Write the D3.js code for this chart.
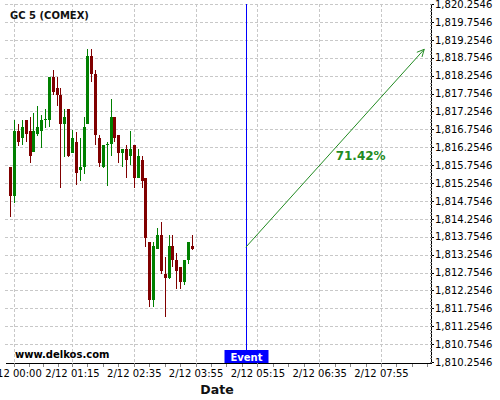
<!DOCTYPE html>
<html>
<head>
<meta charset="utf-8">
<script src="https://cdn.jsdelivr.net/npm/d3@7"></script>
<style>
  html, body { margin: 0; padding: 0; background: #fff; }
  svg { display: block; font-family: "DejaVu Sans", sans-serif; }
</style>
</head>
<body>
<script>
// ---------------- data ----------------
const title = "GC 5 (COMEX)";
const watermark = "www.delkos.com";
const xAxisTitle = "Date";
const times = [
  "2021-02-11T23:55","2021-02-12T00:00","2021-02-12T00:05","2021-02-12T00:10","2021-02-12T00:15","2021-02-12T00:20",
  "2021-02-12T00:25","2021-02-12T00:30","2021-02-12T00:35","2021-02-12T00:40","2021-02-12T00:45","2021-02-12T00:50",
  "2021-02-12T00:55","2021-02-12T01:00","2021-02-12T01:05","2021-02-12T01:10","2021-02-12T01:15","2021-02-12T01:20",
  "2021-02-12T01:25","2021-02-12T01:30","2021-02-12T01:35","2021-02-12T01:40","2021-02-12T01:45","2021-02-12T01:50",
  "2021-02-12T01:55","2021-02-12T02:00","2021-02-12T02:05","2021-02-12T02:10","2021-02-12T02:15","2021-02-12T02:20",
  "2021-02-12T02:25","2021-02-12T02:30","2021-02-12T02:35","2021-02-12T02:40","2021-02-12T02:45","2021-02-12T02:50",
  "2021-02-12T02:55","2021-02-12T03:00","2021-02-12T03:05","2021-02-12T03:10","2021-02-12T03:15","2021-02-12T03:20",
  "2021-02-12T03:25","2021-02-12T03:30","2021-02-12T03:35","2021-02-12T03:40","2021-02-12T03:45","2021-02-12T03:50"
];
const opens = [1815.71,1814.90,1816.71,1816.52,1817.01,1816.71,1816.11,1816.61,1816.72,1817.02,1817.01,1818.22,
  1817.90,1817.71,1816.91,1817.32,1816.10,1816.39,1815.62,1815.71,1816.90,1818.81,1818.30,1816.50,
  1815.70,1816.33,1816.34,1817.09,1816.59,1816.10,1816.20,1816.02,1816.31,1815.40,1815.90,1815.40,
  1813.60,1811.99,1813.41,1813.80,1812.71,1812.61,1813.49,1813.10,1812.90,1812.50,1813.10,1813.49];
const highs = [1815.71,1817.01,1816.89,1817.01,1817.01,1817.09,1817.20,1817.41,1817.15,1817.31,1818.22,1818.41,
  1818.21,1817.90,1817.31,1817.32,1816.73,1816.69,1816.50,1817.09,1819.00,1819.00,1818.41,1816.60,
  1816.31,1816.40,1817.59,1817.09,1816.59,1816.20,1816.31,1816.71,1816.31,1816.20,1816.00,1815.40,
  1813.60,1813.60,1813.99,1814.17,1813.20,1813.80,1813.80,1813.29,1812.90,1813.10,1813.60,1813.80];
const lows = [1814.30,1814.69,1816.30,1816.31,1816.39,1815.80,1816.11,1816.58,1816.22,1816.80,1816.81,1817.71,
  1817.41,1815.11,1815.99,1815.99,1816.10,1815.19,1815.31,1815.50,1816.90,1818.08,1816.31,1815.69,
  1815.67,1815.18,1816.01,1816.39,1815.80,1815.70,1815.39,1815.76,1815.11,1815.39,1815.11,1813.48,
  1811.78,1811.78,1813.40,1812.71,1811.50,1812.58,1812.90,1812.29,1812.29,1812.41,1812.98,1813.38];
const closes = [1814.90,1816.71,1816.41,1816.81,1816.61,1816.02,1816.71,1816.81,1817.01,1817.03,1818.22,1817.80,
  1817.71,1816.91,1817.10,1816.02,1816.50,1815.53,1815.69,1816.83,1818.81,1818.30,1816.60,1815.82,
  1816.31,1816.35,1817.09,1816.52,1816.10,1816.20,1815.91,1816.20,1815.40,1816.01,1815.32,1813.71,
  1811.99,1813.49,1813.80,1812.80,1812.61,1813.49,1813.10,1812.80,1812.50,1813.10,1813.60,1813.41];

const xTickTimes = ["2021-02-12T00:00","2021-02-12T01:15","2021-02-12T02:35","2021-02-12T03:55",
  "2021-02-12T05:15","2021-02-12T06:35","2021-02-12T07:55"];
const xTickLabels = ["2/12 00:00","2/12 01:15","2/12 02:35","2/12 03:55","2/12 05:15","2/12 06:35","2/12 07:55"];
const yTickValues = [1810.2546,1810.7546,1811.2546,1811.7546,1812.2546,1812.7546,1813.2546,1813.7546,
  1814.2546,1814.7546,1815.2546,1815.7546,1816.2546,1816.7546,1817.2546,1817.7546,1818.2546,1818.7546,
  1819.2546,1819.7546,1820.2546];

const eventTime = "2021-02-12T05:00";
const eventLabel = "Event";
const arrowTimes = ["2021-02-12T05:00","2021-02-12T08:51"];
const arrowValues = [1813.46, 1818.99];
const arrowLabel = "71.42%";

// ---------------- drawing ----------------
const W = 500, H = 400;
const plotL = 5, plotR = 431.5, plotT = 4, plotB = 363.5;
const upColor = "#008000", downColor = "#800000";
const gridColor = "#c8c8c8";
const arrowColor = "#228B22";

const parse = s => new Date(s);
const svg = d3.select("body").append("svg").attr("width", W).attr("height", H);

const x = d3.scaleTime()
  .domain([new Date(2021,1,11,23,48,16), new Date(2021,1,12,9,0,24)])
  .range([plotL, plotR]);
const y = d3.scaleLinear()
  .domain([1810.2546 - 1.5/35.8, 1820.2546])
  .range([plotB, plotT]);

// grid
const grid = svg.append("g").attr("stroke", gridColor).attr("stroke-dasharray", "3,2")
  .attr("shape-rendering", "crispEdges");
grid.selectAll("line.h").data(yTickValues.slice(1)).join("line")
  .attr("x1", plotL).attr("x2", plotR)
  .attr("y1", d => Math.round(y(d)) + 0.5).attr("y2", d => Math.round(y(d)) + 0.5);
grid.selectAll("line.v").data(xTickTimes).join("line")
  .attr("x1", d => Math.round(x(parse(d))) + 0.5).attr("x2", d => Math.round(x(parse(d))) + 0.5)
  .attr("y1", plotT).attr("y2", plotB);

// candles
const candles = times.map((t, i) => ({ t: parse(t), o: opens[i], h: highs[i], l: lows[i], c: closes[i] }));
const cg = svg.append("g").attr("shape-rendering", "crispEdges");
cg.selectAll("line").data(candles).join("line")
  .attr("x1", d => Math.round(x(d.t)) + 0.5).attr("x2", d => Math.round(x(d.t)) + 0.5)
  .attr("y1", d => y(d.h)).attr("y2", d => y(d.l))
  .attr("stroke", d => d.c >= d.o ? upColor : downColor).attr("stroke-width", 1);
cg.selectAll("rect").data(candles).join("rect")
  .attr("x", d => Math.round(x(d.t)) - 1)
  .attr("width", 3)
  .attr("y", d => y(Math.max(d.o, d.c)))
  .attr("height", d => Math.max(1, Math.abs(y(d.o) - y(d.c))))
  .attr("fill", d => d.c >= d.o ? upColor : downColor);

// event line and label
const ex = Math.round(x(parse(eventTime))) + 0.5;
svg.append("line").attr("x1", ex).attr("x2", ex).attr("y1", plotT).attr("y2", 350)
  .attr("stroke", "#0000ff").attr("stroke-width", 1).attr("shape-rendering", "crispEdges");
svg.append("rect").attr("x", ex - 22).attr("y", 350).attr("width", 44).attr("height", 13)
  .attr("fill", "#0000ff");
svg.append("text").attr("x", ex).attr("y", 360.5).attr("text-anchor", "middle")
  .attr("fill", "#fff").attr("font-weight", "bold").attr("font-size", "10px").text(eventLabel);

// arrow
const ax1 = x(parse(arrowTimes[0])), ay1 = y(arrowValues[0]);
const ax2 = x(parse(arrowTimes[1])), ay2 = y(arrowValues[1]);
svg.append("line").attr("x1", ax1).attr("y1", ay1).attr("x2", ax2).attr("y2", ay2)
  .attr("stroke", arrowColor).attr("stroke-width", 1);
const ang = Math.atan2(ay2 - ay1, ax2 - ax1);
const headLen = 8, headAng = Math.PI / 7;
svg.append("path")
  .attr("d", `M${ax2 - headLen*Math.cos(ang - headAng)},${ay2 - headLen*Math.sin(ang - headAng)}L${ax2},${ay2}L${ax2 - headLen*Math.cos(ang + headAng)},${ay2 - headLen*Math.sin(ang + headAng)}`)
  .attr("fill", "none").attr("stroke", arrowColor).attr("stroke-width", 1);
const frac = 0.47;
svg.append("text")
  .attr("x", ax1 + (ax2 - ax1) * frac + 6).attr("y", ay1 + (ay2 - ay1) * frac + 6)
  .attr("fill", arrowColor).attr("font-weight", "bold").attr("font-size", "12px").text(arrowLabel);

// x axis
const xAxis = d3.axisBottom(x)
  .tickValues(xTickTimes.map(parse))
  .tickFormat((d, i) => xTickLabels[i])
  .tickSize(4).tickSizeOuter(0).tickPadding(3);
const gx = svg.append("g").attr("transform", `translate(0,${plotB - 0.5})`).call(xAxis);
gx.select(".domain").attr("stroke", "#000").attr("shape-rendering", "crispEdges");
gx.selectAll(".tick line").attr("stroke", "#888").attr("shape-rendering", "crispEdges");
gx.selectAll("text").attr("font-size", "10px").attr("font-family", "DejaVu Sans").attr("fill", "#000");
// minor x ticks
const minorX = [];
for (let i = 0; i < xTickTimes.length - 1; i++) {
  const a = parse(xTickTimes[i]).getTime(), b = parse(xTickTimes[i+1]).getTime();
  for (let k = 1; k < 4; k++) minorX.push(new Date(a + (b - a) * k / 4));
}
{
  const last = parse(xTickTimes[xTickTimes.length - 1]).getTime();
  for (let k = 1; x(new Date(last + k * 20 * 60000)) <= plotR; k++) minorX.push(new Date(last + k * 20 * 60000));
}
svg.append("g").attr("stroke", "#888").attr("shape-rendering", "crispEdges")
  .selectAll("line").data(minorX).join("line")
  .attr("x1", d => Math.round(x(d)) + 0.5).attr("x2", d => Math.round(x(d)) + 0.5)
  .attr("y1", plotB).attr("y2", plotB + 3);

// y axis (right)
const yAxis = d3.axisRight(y).tickValues(yTickValues).tickFormat(d3.format(",.4f"))
  .tickSize(3).tickSizeOuter(0).tickPadding(1);
const gy = svg.append("g").attr("transform", `translate(${plotR - 0.5},0)`).call(yAxis);
gy.select(".domain").attr("stroke", "#000").attr("shape-rendering", "crispEdges")
  .attr("d", `M0.5,${plotT}V${plotB}`);
gy.selectAll(".tick line").attr("stroke", "#000").attr("shape-rendering", "crispEdges");
gy.selectAll("text").attr("font-size", "10px").attr("font-family", "DejaVu Sans").attr("fill", "#000");
// minor y ticks
const minorY = d3.range(0, 101).map(k => 1810.2546 + k * 0.1).filter(v => v <= 1820.2547);
svg.append("g").attr("stroke", "#888").attr("shape-rendering", "crispEdges")
  .selectAll("line").data(minorY).join("line")
  .attr("x1", plotR).attr("x2", plotR - 2)
  .attr("y1", d => Math.round(y(d)) + 0.5).attr("y2", d => Math.round(y(d)) + 0.5);

// titles
svg.append("text").attr("x", 10).attr("y", 19).attr("font-weight", "bold").attr("font-size", "10px")
  .attr("fill", "#111").text(title);
svg.append("text").attr("x", 15).attr("y", 357.5).attr("font-weight", "bold").attr("font-size", "10px")
  .attr("fill", "#000").text(watermark);
svg.append("text").attr("x", 217).attr("y", 394).attr("text-anchor", "middle").attr("font-weight", "bold")
  .attr("font-size", "12.5px").attr("fill", "#111").text(xAxisTitle);
</script>
</body>
</html>
